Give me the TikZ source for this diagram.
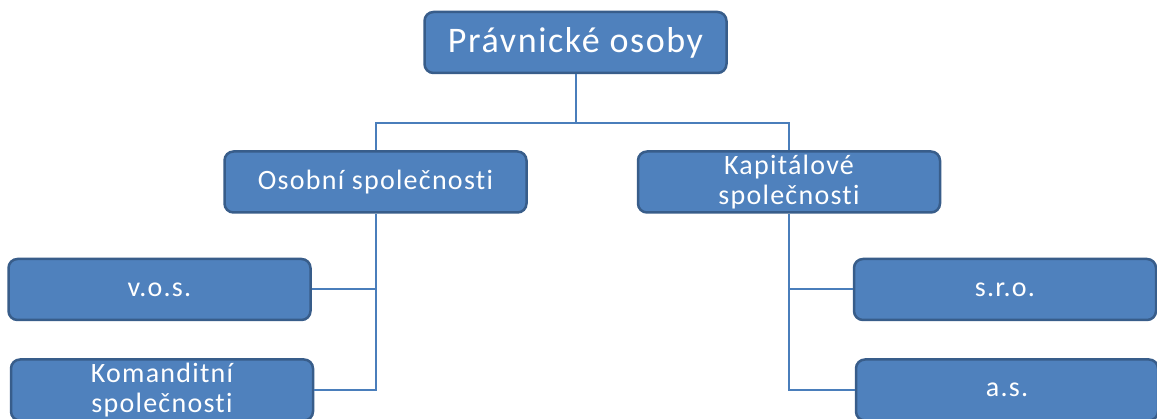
\documentclass[tikz,border=0pt]{standalone}
\usepackage{fontspec}
\setmainfont{Carlito}
\newfontfamily\boxfont[LetterSpace=4.5,Ligatures=NoCommon,RawFeature={-liga}]{Carlito}
\definecolor{boxfill}{HTML}{4F81BD}
\definecolor{boxline}{HTML}{385D8A}
\definecolor{connc}{HTML}{4A7EBB}
\begin{document}
\begin{tikzpicture}[x=1pt,y=-1pt,
  box/.style={draw=boxline, line width=2.5pt, fill=boxfill, rounded corners=9pt,
    text=white, align=center, inner sep=0pt, minimum width=302pt, minimum height=61pt},
  conn/.style={draw=connc, line width=2pt},
  big/.style={font=\boxfont\fontsize{36}{40}\selectfont},
  mid/.style={font=\boxfont\fontsize{28}{30.5}\selectfont}]
\useasboundingbox (0,0) rectangle (1157,419);
\clip (0,0) rectangle (1157,419);
\fill[white] (0,0) rectangle (1157,419);
\node[box, big] (top) at (575.5,42.5) {Právnické osoby};
\node[box, mid] (osob) at (375.5,182) {Osobní společnosti};
\node[box, mid] (kap) at (789,182) {Kapitálové\\společnosti};
\node[box, mid] (vos) at (159.5,289.5) {v.o.s.};
\node[box, mid] (kom) at (162,390) {Komanditní\\společnosti};
\node[box, mid] (sro) at (1005,289.5) {s.r.o.};
\node[box, mid] (as) at (1007,390) {a.s.};
\coordinate (j) at (575.5,123);
\draw[conn] (top.south) -- (j);
\draw[conn] (j) -| (osob.north);
\draw[conn] (j) -| (kap.north);
\draw[conn] (osob.south) |- (kom.east);
\draw[conn] (vos.east) -- (vos.east -| osob.south);
\draw[conn] (kap.south) |- (as.west);
\draw[conn] (sro.west) -- (sro.west -| kap.south);
\end{tikzpicture}
\end{document}
